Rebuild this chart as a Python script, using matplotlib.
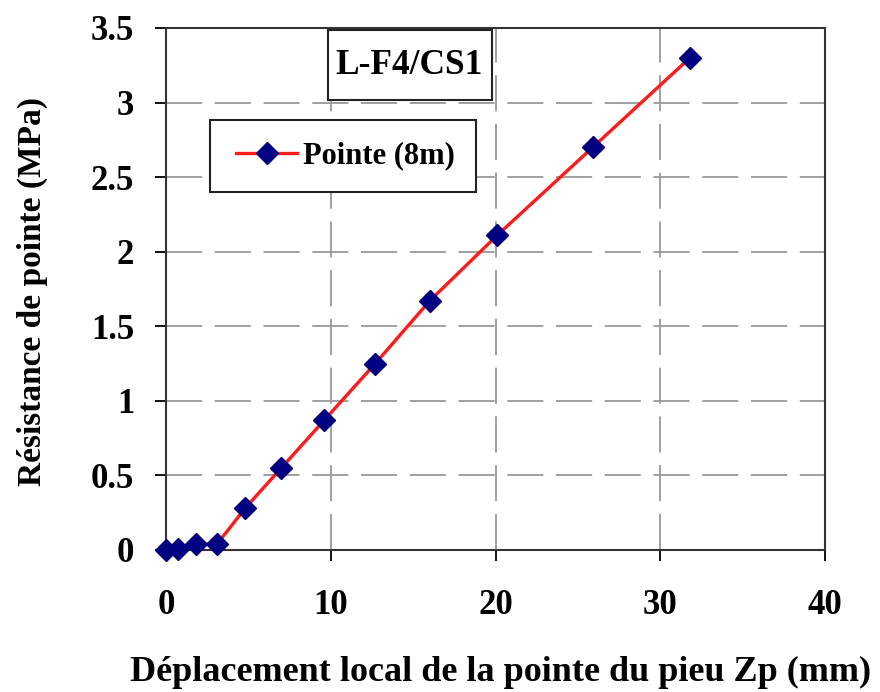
import matplotlib
matplotlib.use("Agg")
import matplotlib.pyplot as plt
from matplotlib.patches import Rectangle

disp = [0.0, 0.7, 1.8, 3.1, 4.8, 7.0, 9.6, 12.7, 16.0, 20.1, 25.9, 31.8]
res = [0.0, 0.01, 0.04, 0.04, 0.28, 0.55, 0.87, 1.25, 1.67, 2.11, 2.70, 3.30]
xticks = [0, 10, 20, 30, 40]
yticks = [0, 0.5, 1, 1.5, 2, 2.5, 3, 3.5]
ytick_labels = ["0", "0.5", "1", "1.5", "2", "2.5", "3", "3.5"]

plt.rcParams['font.family'] = ['Liberation Serif', 'DejaVu Serif']
plt.rcParams['font.weight'] = 'bold'

W, H = 880, 692
fig = plt.figure(figsize=(8.8, 6.92), dpi=100)
L, R, T, B = 166, 825, 28, 550
ax = fig.add_axes([L / W, 1 - B / H, (R - L) / W, (B - T) / H])

def ax_frac(px, py):
    return (px - L) / (R - L), (B - py) / (B - T)

ax.plot(disp, res, color='#ff1a1a', lw=2.4, marker='D', markersize=11,
        markerfacecolor='#000080', markeredgecolor='#000080', label='Pointe (8m)',
        zorder=3, clip_on=False)

ax.set_xlim(0, 40)
ax.set_ylim(0, 3.5)
ax.set_xticks(xticks)
ax.set_xticklabels([str(t) for t in xticks])
ax.set_yticks(yticks)
ax.set_yticklabels(ytick_labels)
ax.tick_params(direction='out', length=8, width=1.3, labelsize=25, colors='black')
ax.tick_params(axis='y', pad=15)
ax.tick_params(axis='x', pad=20)
ax.grid(True, color='#999999', linestyle=(0, (20, 7)), lw=1.3)
for s in ax.spines.values():
    s.set_linewidth(1.5)
    s.set_color('#333333')

fig.text(501 / W, 1 - 672 / H, 'Déplacement local de la pointe du pieu Zp (mm)',
         fontsize=26, fontweight='bold', ha='center', va='center')
fig.text(32 / W, 1 - 291 / H, 'Résistance de pointe (MPa)', rotation=90,
         fontsize=24, fontweight='bold', ha='center', va='center')

# title box
x0, y1 = ax_frac(328, 100)
x1, y0 = ax_frac(492, 30)
ax.add_patch(Rectangle((x0, y1), x1 - x0, y0 - y1, transform=ax.transAxes,
                       facecolor='white', edgecolor='#222222', lw=1.5, zorder=5))
cx, cy = ax_frac(409, 66)
ax.text(cx, cy, 'L-F4/CS1', transform=ax.transAxes, ha='center', va='center',
        fontsize=25.5, fontweight='bold', zorder=6)

# legend box
x0, y1 = ax_frac(210, 192)
x1, y0 = ax_frac(476, 120)
ax.add_patch(Rectangle((x0, y1), x1 - x0, y0 - y1, transform=ax.transAxes,
                       facecolor='white', edgecolor='#222222', lw=1.5, zorder=5))
lx, ly = ax_frac(236, 156)
leg = ax.legend(loc='center left', bbox_to_anchor=(lx, ly), frameon=False,
                prop={'size': 22, 'weight': 'bold'}, handlelength=2.0,
                borderpad=0, borderaxespad=0, handletextpad=0.2)
leg.set_zorder(7)

fig.savefig('out.png', dpi=100)
